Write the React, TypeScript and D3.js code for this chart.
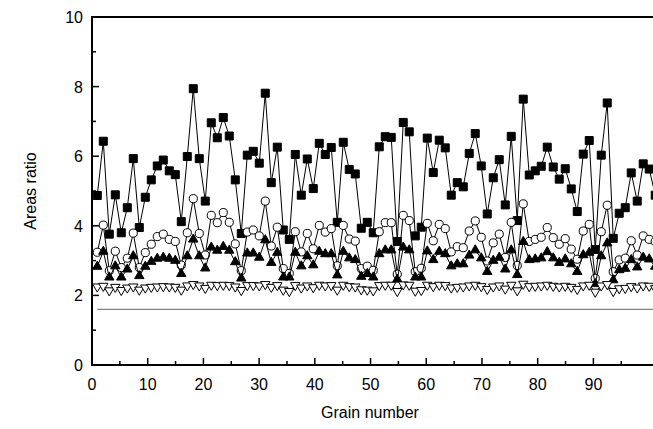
import React from 'react';
import * as d3 from 'd3';

// grain index 1..94
const squares = [4.87, 6.43, 3.76, 4.89, 3.80, 4.52, 5.93, 3.95, 4.82, 5.32,
  5.72, 5.89, 5.58, 5.47, 4.12, 5.99, 7.94, 5.93, 4.71, 6.96,
  6.53, 7.11, 6.58, 5.32, 3.78, 6.03, 6.14, 5.80, 7.81, 5.24,
  6.26, 3.88, 3.61, 6.05, 4.88, 5.92, 5.07, 6.37, 6.05, 6.25,
  4.10, 6.40, 5.62, 5.49, 3.93, 4.10, 3.80, 6.27, 6.56, 6.54,
  3.55, 6.97, 6.70, 3.71, 3.96, 6.52, 5.53, 6.46, 6.24, 4.88,
  5.24, 5.12, 6.08, 6.65, 5.72, 4.34, 5.38, 5.90, 4.60, 6.57,
  4.15, 7.64, 5.46, 5.58, 5.71, 6.26, 5.69, 5.34, 5.64, 5.06,
  4.41, 6.06, 6.45, 3.32, 6.03, 7.53, 3.64, 4.36, 4.52, 5.52,
  4.71, 5.78, 5.63, 4.88];

const circles = [3.24, 4.02, 2.71, 3.27, 2.80, 3.07, 3.79, 2.80, 3.23, 3.47,
  3.69, 3.76, 3.61, 3.55, 2.87, 3.80, 4.78, 3.78, 3.16, 4.30,
  4.09, 4.38, 4.10, 3.48, 2.71, 3.82, 3.88, 3.71, 4.71, 3.42,
  3.96, 2.77, 2.63, 3.83, 3.25, 3.78, 3.34, 4.01, 3.82, 3.92,
  2.85, 4.01, 3.62, 3.56, 2.77, 2.84, 2.72, 3.83, 4.09, 4.09,
  2.61, 4.30, 4.15, 2.68, 2.78, 4.07, 3.57, 4.04, 3.92, 3.25,
  3.40, 3.37, 3.85, 4.14, 3.67, 2.99, 3.51, 3.76, 3.09, 4.10,
  2.86, 4.63, 3.55, 3.61, 3.67, 3.95, 3.66, 3.47, 3.63, 3.33,
  3.04, 3.85, 4.04, 2.49, 3.83, 4.59, 2.68, 3.02, 3.07, 3.57,
  3.16, 3.71, 3.61, 3.55];

const triangles = [2.83, 3.26, 2.52, 2.84, 2.52, 2.75, 3.13, 2.56, 2.83, 2.97,
  3.06, 3.09, 3.06, 3.00, 2.62, 3.13, 3.61, 3.13, 2.78, 3.38,
  3.29, 3.40, 3.29, 2.96, 2.49, 3.21, 3.21, 3.09, 3.59, 2.94,
  3.23, 2.52, 2.52, 3.23, 2.84, 3.13, 2.87, 3.26, 3.19, 3.19,
  2.58, 3.26, 3.07, 3.02, 2.54, 2.62, 2.52, 3.19, 3.30, 3.30,
  2.46, 3.38, 3.30, 2.52, 2.52, 3.27, 3.02, 3.26, 3.19, 2.84,
  2.90, 2.90, 3.15, 3.30, 3.07, 2.68, 3.00, 3.09, 2.75, 3.30,
  2.59, 3.54, 3.02, 3.04, 3.07, 3.25, 3.07, 2.94, 3.04, 2.90,
  2.68, 3.16, 3.23, 2.33, 3.13, 3.50, 2.44, 2.73, 2.77, 3.02,
  2.81, 3.09, 3.04, 2.83];

const downTriangles = [2.25, 2.27, 2.14, 2.24, 2.15, 2.22, 2.25, 2.16, 2.22, 2.24,
  2.25, 2.26, 2.25, 2.24, 2.16, 2.28, 2.32, 2.28, 2.21, 2.30,
  2.29, 2.30, 2.29, 2.25, 2.15, 2.29, 2.29, 2.28, 2.32, 2.24,
  2.29, 2.16, 2.12, 2.29, 2.22, 2.28, 2.23, 2.30, 2.28, 2.29,
  2.16, 2.30, 2.26, 2.25, 2.17, 2.16, 2.14, 2.29, 2.30, 2.30,
  2.12, 2.31, 2.30, 2.13, 2.15, 2.30, 2.26, 2.30, 2.29, 2.22,
  2.24, 2.25, 2.28, 2.30, 2.26, 2.18, 2.25, 2.28, 2.19, 2.30,
  2.14, 2.33, 2.26, 2.27, 2.28, 2.30, 2.27, 2.25, 2.27, 2.24,
  2.18, 2.28, 2.30, 2.10, 2.28, 2.32, 2.12, 2.20, 2.21, 2.26,
  2.22, 2.28, 2.27, 2.20];

const baseline = 1.6;

const xTicks = [0, 10, 20, 30, 40, 50, 60, 70, 80, 90];
const xMinorTicks = [5, 15, 25, 35, 45, 55, 65, 75, 85, 95];
const yTicks = [0, 2, 4, 6, 8, 10];
const yMinorTicks = [1, 3, 5, 7, 9];

const W = 653;
const H = 429;
const font = '"Liberation Sans", Arial, Helvetica, sans-serif';

export default function App() {
  const x = d3.scaleLinear().domain([0, 100.7]).range([92, 653]);
  const y = d3.scaleLinear().domain([0, 10]).range([365, 17]);
  // grains sit slightly off the integer grid of the axis
  const g = d3.scaleLinear().domain([1, 94]).range([x(0.95), x(101.1)]);

  const line = d3.line<number>()
    .x((d, i) => g(i + 1))
    .y(d => y(d));

  const sq = d3.symbol().type(d3.symbolSquare).size(64)()!;
  const ci = d3.symbol().type(d3.symbolCircle).size(52)()!;
  const tri = d3.symbol().type(d3.symbolTriangle).size(38)()!;

  const series = [
    { data: squares, path: sq, fill: '#000', rot: 0 },
    { data: circles, path: ci, fill: '#fff', rot: 0 },
    { data: triangles, path: tri, fill: '#000', rot: 0 },
    { data: downTriangles, path: tri, fill: '#fff', rot: 180 },
  ];

  const x0 = x(0);
  const y0 = y(0);

  return (
    <svg width={W} height={H} style={{ position: 'absolute', left: 0, top: 0, background: '#fff' }}>
      <rect width={W} height={H} fill="#fff" />

      {/* reference level */}
      <line x1={g(1)} x2={W} y1={y(baseline)} y2={y(baseline)} stroke="#808080" strokeWidth={1.2} />

      {series.map((s, si) => (
        <g key={si}>
          <path d={line(s.data)!} fill="none" stroke="#000" strokeWidth={1} />
          {s.data.map((v, i) => (
            <path key={i} d={s.path}
              transform={`translate(${g(i + 1)},${y(v)}) rotate(${s.rot})`}
              fill={s.fill} stroke="#000" strokeWidth={1} />
          ))}
        </g>
      ))}

      {/* frame */}
      <line x1={x0} x2={W} y1={y(10)} y2={y(10)} stroke="#000" strokeWidth={2} />
      <line x1={x0} x2={W} y1={y0} y2={y0} stroke="#000" strokeWidth={2} />
      <line x1={x0} x2={x0} y1={y(10) - 1} y2={y0 + 1} stroke="#000" strokeWidth={2} />

      {xTicks.map(t => (
        <g key={t}>
          <line x1={x(t)} x2={x(t)} y1={y0} y2={y0 - 7} stroke="#000" strokeWidth={1.5} />
          <text x={x(t)} y={390} textAnchor="middle" fontFamily={font} fontSize={16}>{t}</text>
        </g>
      ))}
      {xMinorTicks.map(t => (
        <line key={t} x1={x(t)} x2={x(t)} y1={y0} y2={y0 - 4} stroke="#000" strokeWidth={1.5} />
      ))}
      {yTicks.map(t => (
        <g key={t}>
          <line x1={x0} x2={x0 + 7} y1={y(t)} y2={y(t)} stroke="#000" strokeWidth={1.5} />
          <text x={83} y={y(t) + 6} textAnchor="end" fontFamily={font} fontSize={16}>{t}</text>
        </g>
      ))}
      {yMinorTicks.map(t => (
        <line key={t} x1={x0} x2={x0 + 4} y1={y(t)} y2={y(t)} stroke="#000" strokeWidth={1.5} />
      ))}

      <text x={370} y={418} textAnchor="middle" fontFamily={font} fontSize={16}>Grain number</text>
      <text transform={`translate(36,${(y(0) + y(10)) / 2}) rotate(-90)`} textAnchor="middle"
        fontFamily={font} fontSize={16}>Areas ratio</text>
    </svg>
  );
}
